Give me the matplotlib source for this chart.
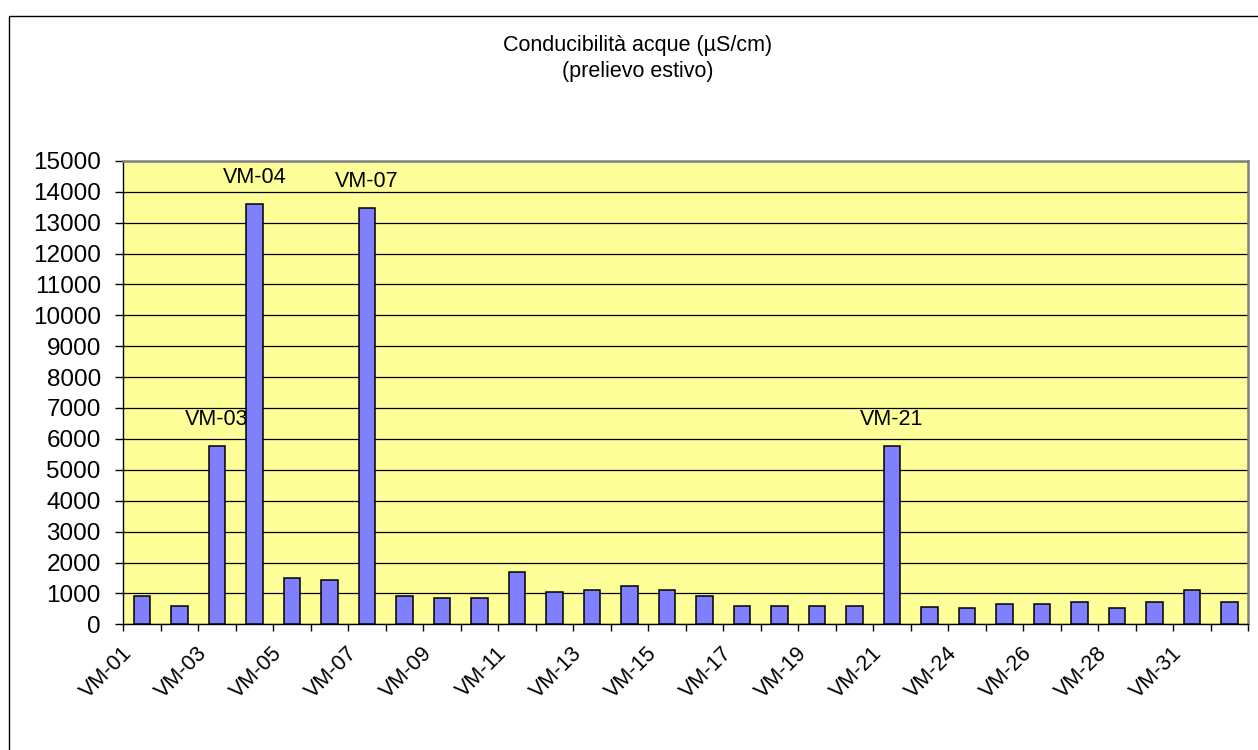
# conducibilita acque - prelievo estivo, bar chart
import numpy as np
import matplotlib
matplotlib.use('Agg')
import matplotlib.pyplot as plt
from matplotlib.patches import Rectangle
from matplotlib.transforms import offset_copy, blended_transform_factory

plt.rcParams['font.family'] = ['Liberation Sans', 'DejaVu Sans']

pozzi = ['VM-01', 'VM-02', 'VM-03', 'VM-04', 'VM-05', 'VM-06', 'VM-07', 'VM-08',
         'VM-09', 'VM-10', 'VM-11', 'VM-12', 'VM-13', 'VM-14', 'VM-15', 'VM-16',
         'VM-17', 'VM-18', 'VM-19', 'VM-20', 'VM-21', 'VM-22', 'VM-24', 'VM-25',
         'VM-26', 'VM-27', 'VM-28', 'VM-30', 'VM-31', 'VM-32']
conducibilita = [920, 600, 5760, 13590, 1500, 1420, 13460, 920,
                 840, 840, 1680, 1040, 1100, 1240, 1100, 900,
                 590, 590, 590, 590, 5760, 570, 520, 650,
                 650, 710, 520, 710, 1100, 710]
# pozzi con etichetta sopra la barra
evidenziati = ['VM-03', 'VM-04', 'VM-07', 'VM-21']
yticks = list(range(0, 15001, 1000))

fig = plt.figure(figsize=(12.58, 7.5), dpi=100)
ax = fig.add_axes([123/1258, 1 - 624.3/750, 1125/1258, (624.3 - 160.8)/750])

# cornice esterna del grafico
fig.patches.append(Rectangle((9/1258, -0.05), 1.1, 1 - 16/750 + 0.05,
                             transform=fig.transFigure, fill=False,
                             edgecolor='black', linewidth=1.0))

x = np.arange(len(pozzi))
ax.set_facecolor('#FFFF99')
ax.bar(x, conducibilita, width=0.44, color='#8080FF', edgecolor='black',
       linewidth=1.1, zorder=3)

ax.set_xlim(-0.5, len(pozzi) - 0.5)
ax.set_ylim(0, 15000)
ax.set_yticks(yticks)
ax.set_yticklabels([str(v) for v in yticks], fontsize=17.5)
ax.yaxis.grid(True, color='black', linewidth=0.9, zorder=0)
ax.set_axisbelow(True)

# tick sui bordi delle categorie, etichette una si e una no
ax.set_xticks(np.arange(len(pozzi) + 1) - 0.5)
ax.set_xticklabels([])
ax.tick_params(axis='x', direction='out', length=5, width=1, color='black')
ax.tick_params(axis='y', direction='out', length=6, width=1, pad=10, color='black')

trans = blended_transform_factory(ax.transData, ax.transAxes)
trans = offset_copy(trans, fig=fig, x=-13, y=-26, units='dots')
for i in range(0, len(pozzi), 2):
    ax.text(i, 0, pozzi[i], transform=trans, rotation=45, rotation_mode='anchor',
            ha='right', va='center', fontsize=15.5)

for nome in evidenziati:
    i = pozzi.index(nome)
    ax.annotate(nome, (i, conducibilita[i]), xytext=(0, 19), textcoords='offset points',
                ha='center', va='center', fontsize=15.5, zorder=5)

for s in ['left', 'bottom']:
    ax.spines[s].set_color('black')
    ax.spines[s].set_linewidth(1.0)
for s in ['top', 'right']:
    ax.spines[s].set_color('#808080')
    ax.spines[s].set_linewidth(1.8)

fig.text(638/1258, 1 - 46/750, 'Conducibilità acque (µS/cm)', ha='center', va='center', fontsize=15.5)
fig.text(638/1258, 1 - 71/750, '(prelievo estivo)', ha='center', va='center', fontsize=15.5)

fig.savefig('out.png', dpi=100)
